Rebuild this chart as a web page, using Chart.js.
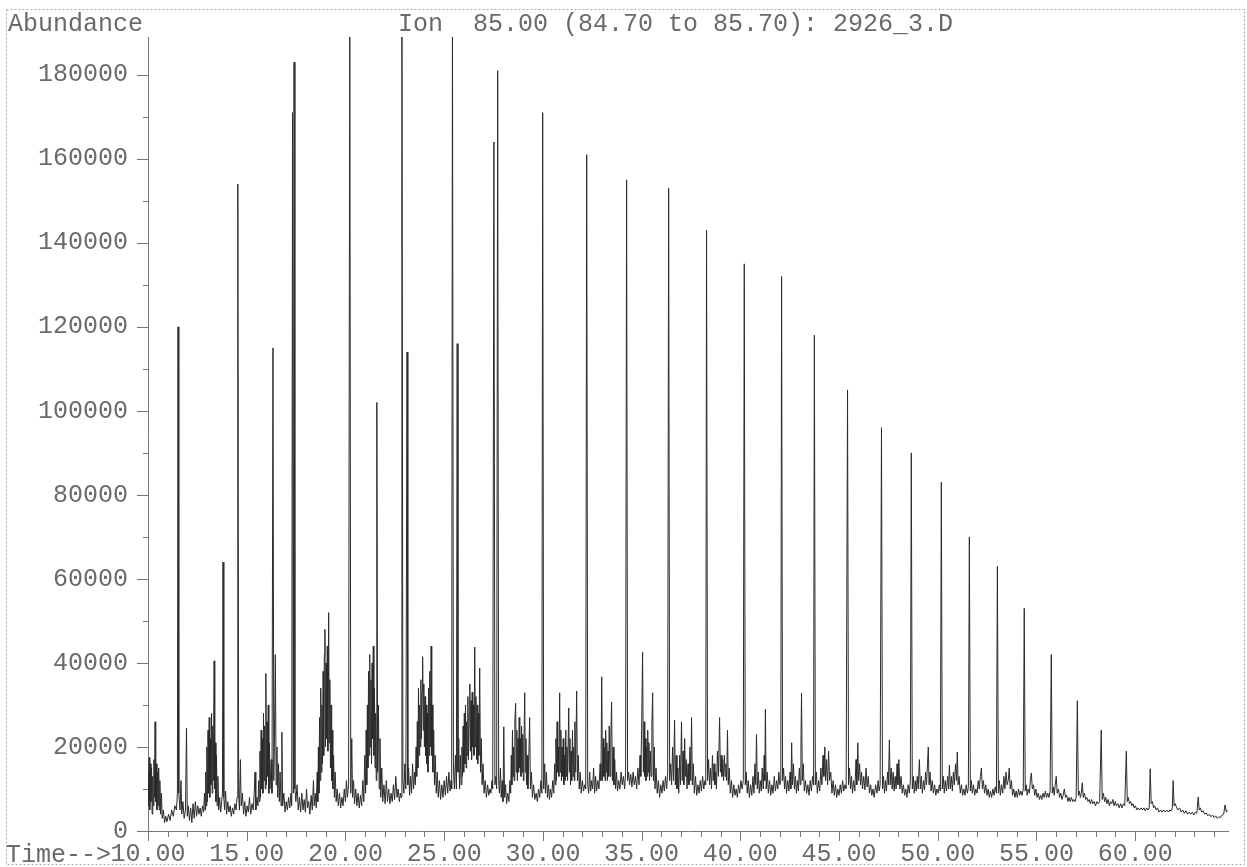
<!DOCTYPE html>
<html>
<head>
<meta charset="utf-8">
<title>Ion 85.00 chromatogram</title>
<script src="https://cdn.jsdelivr.net/npm/chart.js@4.4.1/dist/chart.umd.min.js"></script>
<style>
  html, body { margin: 0; padding: 0; background: #fff; }
  canvas { display: block; }
</style>
</head>
<body>
<canvas id="chartIon" width="1247" height="867"></canvas>
<script>
(function() {
    'use strict';

    // [time (min), abundance], region by region
    var early = [
        [10.00, 14000],[10.03, 6000],[10.06, 17500],[10.09, 5000],[10.12, 16000],[10.15, 7000],[10.18, 15000],[10.21, 4000],
        [10.24, 13000],[10.27, 6000],[10.30, 17000],[10.33, 8000],[10.36, 26000],[10.39, 7000],[10.42, 16000],[10.45, 5000],
        [10.48, 14000],[10.51, 6000],[10.54, 15000],[10.57, 5000],[10.60, 12000],[10.64, 4000],[10.68, 9000],[10.72, 3000],
        [10.78, 5000],[10.84, 2000],[10.90, 3500],[10.96, 2200],[11.04, 4000],[11.12, 2500],[11.20, 5000],[11.28, 3500],
        [11.36, 6000],[11.44, 5000],[11.49, 9000],[11.52, 120000],[11.56, 9000],[11.62, 5000],[11.67, 12000],[11.71, 4000],
        [11.77, 7000],[11.83, 3000],[11.90, 5000],[11.95, 24500],[11.99, 3500],[12.04, 6000],[12.10, 2500],[12.16, 5500],
        [12.22, 2000],[12.28, 6500],[12.34, 3000],[12.40, 7000],[12.46, 3500],[12.52, 6000],[12.58, 4000],[12.64, 5500],
        [12.70, 3500],[12.76, 6000],[12.82, 4500],[12.86, 9000],[12.89, 5000],[12.92, 14000],[12.95, 6000],[12.98, 20000],
        [13.01, 7000],[13.04, 24000],[13.07, 9000],[13.10, 27000],[13.13, 8000],[13.16, 22000],[13.19, 11000],[13.22, 28000],
        [13.25, 9000],[13.28, 25000],[13.31, 12000],[13.35, 40500],[13.38, 10000],[13.41, 21000],[13.44, 7000],[13.47, 18000],
        [13.50, 6000],[13.54, 13000],[13.58, 5000],[13.63, 8000],[13.68, 4500],[13.73, 7000],[13.77, 9000],[13.80, 64000],
        [13.84, 8000],[13.88, 5000],[13.93, 9500],[13.98, 4000],[14.04, 7000],[14.10, 4500],[14.16, 6000],[14.22, 3500],
        [14.28, 5500],[14.34, 4000],[14.40, 6500],[14.46, 5000],[14.51, 8000],[14.55, 154000]
    ];

    var min14to20 = [
        [14.59, 9000],[14.63, 5000],[14.68, 17000],[14.72, 6000],[14.78, 9000],[14.84, 4000],[14.90, 7000],[14.96, 3500],
        [15.02, 6000],[15.08, 4500],[15.14, 8000],[15.20, 4000],[15.27, 6500],[15.33, 5000],[15.38, 9000],[15.42, 14000],
        [15.46, 5000],[15.52, 8000],[15.57, 6000],[15.61, 12000],[15.64, 7000],[15.67, 19000],[15.70, 8000],[15.73, 24000],
        [15.76, 10000],[15.79, 22000],[15.82, 9000],[15.85, 28000],[15.88, 12000],[15.91, 25000],[15.94, 10000],[15.97, 37500],
        [16.00, 11000],[16.03, 26000],[16.06, 13000],[16.09, 30000],[16.12, 9000],[16.15, 21000],[16.18, 10000],[16.24, 17000],
        [16.28, 9000],[16.33, 115000],[16.37, 12000],[16.41, 24000],[16.45, 42000],[16.49, 11000],[16.53, 20000],[16.57, 8000],
        [16.61, 16000],[16.65, 7000],[16.69, 14000],[16.74, 6000],[16.78, 23500],[16.82, 6000],[16.88, 9000],[16.94, 4500],
        [17.00, 7000],[17.06, 5000],[17.12, 8000],[17.18, 5500],[17.24, 9000],[17.28, 6000],[17.32, 171000],[17.36, 9000],
        [17.40, 183000],[17.44, 10000],[17.49, 7000],[17.55, 11000],[17.61, 5000],[17.67, 8000],[17.73, 4500],[17.79, 9000],
        [17.85, 5000],[17.91, 7500],[17.97, 4500],[18.03, 10000],[18.08, 5500],[18.14, 7000],[18.20, 4000],[18.26, 8500],
        [18.32, 5000],[18.38, 12000],[18.42, 6000],[18.47, 9000],[18.52, 5500],[18.57, 14000],[18.60, 7000],[18.63, 20000],
        [18.66, 9000],[18.69, 27000],[18.72, 12000],[18.75, 34000],[18.78, 14000],[18.81, 30000],[18.84, 16000],[18.87, 38000],
        [18.90, 18000],[18.93, 42000],[18.96, 48000],[18.99, 20000],[19.02, 40000],[19.05, 22000],[19.08, 44000],[19.11, 19000],
        [19.15, 52000],[19.18, 21000],[19.21, 36000],[19.24, 15000],[19.27, 30000],[19.30, 12000],[19.33, 24000],[19.36, 10000],
        [19.40, 18000],[19.44, 8000],[19.48, 14000],[19.53, 7000],[19.58, 10000],[19.64, 6000],[19.70, 9000],[19.76, 5500],
        [19.82, 8000],[19.88, 6000],[19.94, 10000],[20.00, 7000],[20.05, 12000],[20.10, 8000],[20.16, 11000]
    ];

    var min20to26 = [
        [20.22, 195000],[20.27, 9000],[20.32, 22000],[20.36, 8000],[20.41, 12000],[20.46, 6500],[20.52, 10000],[20.58, 6000],
        [20.64, 9000],[20.70, 5500],[20.76, 8500],[20.82, 6000],[20.88, 12000],[20.93, 7000],[20.98, 18000],[21.02, 9000],
        [21.05, 24000],[21.08, 11000],[21.11, 30000],[21.14, 15000],[21.17, 38000],[21.20, 18000],[21.23, 42000],[21.26, 20000],
        [21.29, 36000],[21.32, 16000],[21.35, 40000],[21.38, 22000],[21.41, 44000],[21.44, 18000],[21.47, 34000],[21.50, 15000],
        [21.53, 28000],[21.56, 12000],[21.59, 102000],[21.63, 14000],[21.67, 30000],[21.71, 10000],[21.75, 22000],[21.79, 8000],
        [21.84, 15000],[21.89, 7000],[21.95, 11000],[22.01, 6500],[22.07, 12000],[22.13, 7000],[22.19, 10000],[22.25, 6500],
        [22.31, 9000],[22.37, 7000],[22.43, 11000],[22.49, 7500],[22.55, 13000],[22.61, 8000],[22.67, 10000],[22.73, 7000],
        [22.78, 9000],[22.82, 8000],[22.86, 195000],[22.91, 12000],[22.96, 9000],[23.01, 16000],[23.06, 10000],[23.12, 114000],
        [23.16, 11000],[23.20, 15000],[23.25, 8500],[23.30, 13000],[23.35, 9000],[23.40, 16000],[23.45, 10000],[23.50, 14000],
        [23.54, 11000],[23.58, 20000],[23.61, 13000],[23.64, 26000],[23.67, 15000],[23.70, 34000],[23.73, 18000],[23.76, 30000],
        [23.79, 20000],[23.82, 36000],[23.85, 22000],[23.88, 33000],[23.91, 41500],[23.94, 24000],[23.97, 35000],[24.00, 20000],
        [24.03, 32000],[24.06, 18000],[24.09, 30000],[24.12, 16000],[24.15, 28000],[24.18, 14000],[24.21, 34000],[24.24, 18000],
        [24.27, 38000],[24.30, 20000],[24.34, 44000],[24.37, 18000],[24.40, 30000],[24.43, 14000],[24.47, 24000],[24.51, 11000],
        [24.55, 18000],[24.60, 9000],[24.65, 14000],[24.70, 8000],[24.76, 12000],[24.82, 7500],[24.88, 11000],[24.94, 8000],
        [25.00, 12000],[25.06, 8500],[25.12, 13000],[25.18, 9000],[25.24, 14000],[25.30, 9500],[25.35, 12000],[25.38, 10000],
        [25.42, 195000],[25.47, 14000],[25.52, 10000],[25.57, 18000],[25.62, 10000],[25.66, 116000],[25.70, 14000],[25.74, 22000],
        [25.78, 10000],[25.82, 18000],[25.86, 11000],[25.90, 20000],[25.93, 13000],[25.96, 25000]
    ];

    var min26to32 = [
        [25.99, 14000],[26.02, 28000],[26.05, 16000],[26.08, 30000],[26.11, 15000],[26.14, 26000],[26.17, 18000],[26.20, 32000],
        [26.23, 17000],[26.27, 28000],[26.30, 35000],[26.33, 19000],[26.36, 31000],[26.39, 17000],[26.42, 33000],[26.45, 20000],
        [26.48, 30000],[26.51, 18000],[26.55, 43800],[26.58, 20000],[26.61, 32000],[26.64, 17000],[26.67, 30000],[26.70, 16000],
        [26.73, 28000],[26.76, 18000],[26.80, 38800],[26.84, 14000],[26.88, 22000],[26.92, 11000],[26.97, 16000],[27.02, 9000],
        [27.08, 12000],[27.14, 8000],[27.20, 11000],[27.26, 8500],[27.32, 10000],[27.37, 9000],[27.42, 12000],[27.46, 10000],
        [27.52, 164000],[27.57, 11000],[27.62, 13000],[27.66, 10000],[27.71, 181000],[27.76, 12000],[27.80, 9000],[27.85, 15000],
        [27.89, 8000],[27.94, 12000],[27.98, 7000],[28.02, 24800],[28.06, 8000],[28.11, 11000],[28.16, 6500],[28.22, 9000],
        [28.28, 7000],[28.33, 12000],[28.37, 9000],[28.40, 18000],[28.43, 11000],[28.46, 24000],[28.49, 13000],[28.52, 20000],
        [28.55, 12000],[28.58, 26000],[28.62, 30400],[28.65, 14000],[28.68, 24000],[28.71, 12000],[28.74, 22000],[28.77, 14000],
        [28.80, 27000],[28.83, 15000],[28.86, 22000],[28.89, 13000],[28.92, 25000],[28.95, 14000],[28.98, 23000],[29.01, 12000],
        [29.04, 20000],[29.08, 32900],[29.11, 14000],[29.14, 22000],[29.17, 11000],[29.20, 18000],[29.24, 10000],[29.28, 16000],
        [29.33, 27000],[29.37, 10000],[29.42, 14000],[29.47, 8000],[29.53, 11000],[29.59, 7500],[29.66, 9000],[29.72, 7000],
        [29.78, 10000],[29.84, 8000],[29.90, 12000],[29.95, 9000],[29.99, 171000],[30.04, 10000],[30.09, 16000],[30.13, 9000],
        [30.18, 14000],[30.23, 8000],[30.28, 11000],[30.33, 7500],[30.38, 10000],[30.44, 8000],[30.50, 12000],[30.55, 9000],
        [30.60, 16000],[30.63, 11000],[30.66, 22000],[30.69, 12000],[30.72, 26000],[30.75, 14000],[30.78, 20000],[30.81, 13000],
        [30.85, 32900],[30.88, 14000],[30.91, 24000],[30.94, 12000],[30.97, 20000],[31.00, 13000],[31.03, 22000],[31.06, 11000],
        [31.09, 18000],[31.12, 12000],[31.16, 24000],[31.19, 13000],[31.22, 20000],[31.25, 12000],[31.31, 29300],[31.34, 14000],
        [31.37, 22000],[31.40, 11000],[31.43, 19000],[31.46, 12000],[31.50, 24000],[31.53, 13000],[31.56, 20000],[31.59, 12000],
        [31.62, 26000],[31.66, 14000],[31.71, 33300],[31.75, 12000],[31.79, 18000],[31.84, 10000],[31.89, 14000],[31.94, 9000],
        [32.00, 12000],[32.06, 9500],[32.12, 11000],[32.17, 10000],[32.22, 161000]
    ];

    var min32to40 = [
        [32.27, 11000],[32.32, 9000],[32.37, 14000],[32.42, 9500],[32.47, 12000],[32.52, 10000],[32.57, 15000],[32.62, 9000],
        [32.67, 13000],[32.72, 9500],[32.78, 12000],[32.84, 10000],[32.90, 16000],[32.94, 12000],[32.98, 36700],[33.02, 12000],
        [33.06, 22000],[33.09, 13000],[33.12, 20000],[33.15, 12000],[33.18, 24000],[33.21, 14000],[33.24, 21000],[33.27, 12000],
        [33.30, 19000],[33.33, 13000],[33.36, 25000],[33.40, 13000],[33.44, 22000],[33.48, 30700],[33.52, 12000],[33.56, 20000],
        [33.60, 11000],[33.64, 17000],[33.68, 10000],[33.73, 14000],[33.78, 9500],[33.84, 12000],[33.90, 10000],[33.96, 14000],
        [34.02, 11000],[34.08, 13000],[34.14, 10000],[34.19, 14000],[34.24, 155000],[34.29, 12000],[34.34, 14000],[34.39, 11000],
        [34.45, 13500],[34.51, 10500],[34.57, 14000],[34.63, 11000],[34.69, 13000],[34.75, 10000],[34.81, 15000],[34.87, 11000],
        [34.92, 18000],[34.96, 13000],[35.00, 24000],[35.05, 42600],[35.09, 14000],[35.13, 26000],[35.16, 13000],[35.19, 22000],
        [35.22, 12000],[35.25, 20000],[35.28, 13000],[35.31, 24000],[35.34, 14000],[35.37, 21000],[35.40, 12000],[35.44, 19000],
        [35.48, 13000],[35.52, 25000],[35.56, 32900],[35.60, 12000],[35.64, 20000],[35.68, 10000],[35.73, 15000],[35.79, 9000],
        [35.85, 12000],[35.91, 8000],[35.97, 11000],[36.03, 9000],[36.09, 12000],[36.15, 9500],[36.21, 13000],[36.27, 10000],
        [36.32, 14000],[36.37, 153000],[36.42, 12000],[36.47, 16000],[36.52, 11000],[36.57, 20000],[36.62, 12000],[36.67, 26400],
        [36.71, 11000],[36.75, 18000],[36.79, 10000],[36.84, 15000],[36.88, 9000],[36.93, 18000],[36.97, 11000],[37.02, 26000],
        [37.06, 12000],[37.10, 19000],[37.14, 11000],[37.18, 22000],[37.22, 13000],[37.26, 17000],[37.30, 10000],[37.35, 16000],
        [37.40, 11000],[37.45, 20000],[37.49, 12000],[37.53, 27000],[37.57, 11000],[37.62, 16000],[37.67, 9000],[37.73, 13000],
        [37.79, 8500],[37.85, 11000],[37.91, 9000],[37.97, 12000],[38.03, 9500],[38.09, 13000],[38.15, 10000],[38.21, 12000],
        [38.25, 11000],[38.29, 143000],[38.34, 12000],[38.39, 17000],[38.44, 11000],[38.49, 15000],[38.54, 10000],[38.59, 18000],
        [38.63, 12000],[38.67, 16000],[38.71, 11000],[38.75, 14000],[38.79, 10000],[38.84, 19000],[38.89, 13000],[38.95, 27000],
        [38.99, 14000],[39.03, 18000],[39.07, 13000],[39.11, 17000],[39.15, 12000],[39.19, 18000],[39.23, 13000],[39.27, 16000],
        [39.31, 12000],[39.35, 24000],[39.39, 11000],[39.44, 15000],[39.49, 9000],[39.55, 12000],[39.61, 8000],[39.67, 11000],
        [39.73, 8500],[39.79, 10000],[39.85, 8000],[39.91, 11000],[39.97, 9000],[40.03, 12000],[40.09, 10000],[40.15, 12000]
    ];

    var min40to50 = [
        [40.20, 135000],[40.25, 11000],[40.30, 14000],[40.35, 9000],[40.40, 12000],[40.46, 8000],[40.52, 11000],[40.58, 8500],
        [40.64, 13000],[40.69, 9000],[40.74, 16000],[40.78, 11000],[40.82, 23000],[40.86, 10000],[40.91, 14000],[40.96, 9000],
        [41.01, 12000],[41.06, 9500],[41.11, 15000],[41.16, 10000],[41.21, 18000],[41.24, 12000],[41.27, 29000],[41.31, 10000],
        [41.36, 14000],[41.42, 9000],[41.48, 12000],[41.54, 8500],[41.60, 11000],[41.66, 9000],[41.72, 13000],[41.78, 9500],
        [41.84, 12000],[41.90, 10000],[41.95, 14000],[42.00, 11000],[42.05, 12000],[42.09, 132000],[42.14, 12000],[42.19, 15000],
        [42.24, 10000],[42.29, 13000],[42.34, 9000],[42.40, 12000],[42.46, 9500],[42.52, 14000],[42.56, 10000],[42.60, 21000],
        [42.64, 11000],[42.69, 16000],[42.74, 10000],[42.79, 13000],[42.84, 9000],[42.89, 12000],[42.94, 9500],[42.99, 15000],
        [43.03, 11000],[43.07, 20000],[43.10, 32800],[43.14, 12000],[43.19, 16000],[43.24, 9500],[43.30, 12000],[43.36, 9000],
        [43.42, 11000],[43.48, 8500],[43.54, 12000],[43.60, 9500],[43.66, 13000],[43.71, 11000],[43.75, 118000],[43.80, 11000],
        [43.85, 14000],[43.90, 9000],[43.96, 12000],[44.02, 9500],[44.08, 15000],[44.13, 11000],[44.19, 18000],[44.23, 13000],
        [44.28, 20000],[44.32, 12000],[44.37, 17000],[44.42, 11000],[44.47, 19000],[44.52, 12000],[44.58, 14000],[44.64, 9000],
        [44.70, 12000],[44.76, 8500],[44.82, 11000],[44.88, 8000],[44.94, 10000],[45.00, 8500],[45.06, 11000],[45.12, 9000],
        [45.18, 12000],[45.24, 9500],[45.30, 11000],[45.36, 10000],[45.43, 105000],[45.48, 11000],[45.53, 15000],[45.58, 10000],
        [45.63, 13000],[45.68, 9000],[45.74, 12000],[45.80, 9500],[45.86, 17000],[45.90, 11000],[45.95, 21000],[45.99, 12000],
        [46.04, 16000],[46.09, 11000],[46.14, 14000],[46.19, 10000],[46.25, 13000],[46.31, 9800],[46.37, 15000],[46.42, 10500],
        [46.48, 13000],[46.54, 9000],[46.60, 11000],[46.66, 8500],[46.72, 10000],[46.78, 8000],[46.85, 11000],[46.92, 9000],
        [46.98, 12000],[47.03, 9500],[47.08, 11000],[47.15, 96000],[47.20, 10000],[47.25, 13000],[47.30, 9000],[47.35, 12000],
        [47.40, 9500],[47.46, 14000],[47.50, 11000],[47.55, 21700],[47.59, 11000],[47.64, 15000],[47.69, 10000],[47.74, 14000],
        [47.79, 9500],[47.84, 13000],[47.89, 10000],[47.94, 16000],[47.98, 11000],[48.03, 17000],[48.08, 10000],[48.14, 13000],
        [48.20, 9000],[48.26, 11000],[48.32, 8500],[48.38, 10000],[48.44, 8000],[48.50, 11000],[48.56, 9000],[48.61, 12000],
        [48.66, 90000],[48.71, 10000],[48.76, 13000],[48.81, 9000],[48.86, 12000],[48.91, 9500],[48.96, 13000],[49.01, 10000],
        [49.07, 17000],[49.12, 10000],[49.17, 13000],[49.22, 9000],[49.28, 12000],[49.33, 9800],[49.38, 14000],[49.43, 11000],
        [49.48, 16000],[49.52, 20000],[49.56, 11000],[49.61, 14000],[49.66, 9500],[49.72, 12000],[49.78, 9000],[49.84, 11000],
        [49.90, 8500],[49.96, 10000],[50.02, 9000],[50.08, 11000],[50.13, 9500]
    ];

    var late = [
        [50.18, 83000],[50.23, 10000],[50.28, 13000],[50.33, 9000],[50.38, 12000],[50.44, 9500],[50.50, 13000],[50.55, 10000],
        [50.59, 15700],[50.64, 10000],[50.69, 13000],[50.74, 9500],[50.79, 14000],[50.84, 11000],[50.90, 16000],[50.95, 12000],
        [50.99, 18800],[51.03, 11000],[51.08, 13000],[51.14, 9000],[51.20, 11000],[51.26, 8500],[51.32, 10000],[51.38, 8500],
        [51.44, 11000],[51.50, 9000],[51.55, 10500],[51.60, 70000],[51.65, 9500],[51.70, 12000],[51.75, 9000],[51.81, 11000],
        [51.87, 8500],[51.93, 10000],[51.99, 9000],[52.05, 12000],[52.10, 10000],[52.16, 13000],[52.21, 15000],[52.26, 10000],
        [52.31, 12000],[52.37, 9000],[52.43, 11000],[52.49, 8500],[52.55, 10000],[52.61, 8000],[52.67, 9500],[52.73, 8000],
        [52.79, 10000],[52.85, 8500],[52.91, 10500],[52.97, 9000],[53.02, 63000],[53.07, 9000],[53.12, 12000],[53.17, 8500],
        [53.23, 11000],[53.29, 9000],[53.35, 13000],[53.40, 10000],[53.46, 14000],[53.51, 11000],[53.57, 12000],[53.62, 15000],
        [53.67, 10000],[53.73, 12000],[53.79, 8500],[53.85, 10000],[53.91, 8000],[53.97, 9500],[54.03, 8000],[54.09, 10000],
        [54.15, 8500],[54.21, 9500],[54.27, 8500],[54.33, 10000],[54.38, 53000],[54.43, 9500],[54.48, 11000],[54.53, 8500],
        [54.58, 10000],[54.64, 9000],[54.69, 12000],[54.74, 13800],[54.79, 10000],[54.85, 11000],[54.91, 8500],[54.97, 10000],
        [55.03, 8000],[55.09, 9000],[55.15, 7500],[55.21, 8500],[55.27, 7500],[55.33, 9000],[55.39, 8000],[55.45, 9500],
        [55.51, 8000],[55.57, 9000],[55.63, 8000],[55.69, 9500],[55.75, 42000],[55.80, 9000],[55.85, 10500],[55.90, 8500],
        [55.95, 11000],[56.00, 13000],[56.05, 9000],[56.11, 10000],[56.17, 8000],[56.23, 9000],[56.29, 7500],[56.35, 8500],
        [56.41, 10000],[56.47, 8000],[56.53, 8500],[56.59, 7000],[56.65, 8000],[56.71, 7000],[56.77, 8000],[56.83, 7000],
        [56.89, 7500],[56.95, 7000],[57.01, 8000],[57.07, 31000],[57.12, 8500],[57.17, 9500],[57.22, 8000],[57.27, 9000],
        [57.32, 11500],[57.37, 8000],[57.43, 9000],[57.49, 7500],[57.55, 8000],[57.61, 7000],[57.67, 7500],[57.73, 6500],
        [57.79, 7500],[57.85, 6500],[57.92, 7000],[57.99, 6000],[58.06, 7000],[58.13, 6500],[58.20, 7000],[58.28, 24000],
        [58.33, 7500],[58.39, 9000],[58.45, 7000],[58.51, 8000],[58.57, 6500],[58.63, 7500],[58.69, 6000],[58.75, 7000],
        [58.81, 6500],[58.87, 7500],[58.93, 6000],[58.99, 7000],[59.05, 6000],[59.12, 6500],[59.19, 5500],[59.26, 6500],
        [59.33, 5500],[59.40, 6500],[59.47, 6000],[59.55, 19000],[59.60, 7000],[59.65, 8000],[59.71, 6500],[59.77, 7000],
        [59.83, 6000],[59.89, 6500],[59.95, 5500],[60.01, 6000],[60.08, 5000],[60.15, 5500],[60.22, 5000],[60.30, 5500],
        [60.37, 5000],[60.44, 5500],[60.51, 4800],[60.58, 5500],[60.65, 5000],[60.71, 5500],[60.76, 14800],[60.81, 6500],
        [60.87, 7000],[60.93, 5500],[60.99, 6000],[61.06, 5000],[61.13, 5500],[61.20, 4500],[61.28, 5000],[61.36, 4500],
        [61.44, 5000],[61.52, 4500],[61.60, 5000],[61.68, 4500],[61.75, 5000],[61.82, 4800],[61.88, 5500],[61.92, 12000],
        [61.97, 6000],[62.03, 6500],[62.10, 5500],[62.17, 5000],[62.25, 5500],[62.33, 4500],[62.41, 5000],[62.49, 4200],
        [62.57, 4800],[62.65, 4000],[62.73, 4500],[62.81, 4000],[62.89, 4500],[62.97, 3800],[63.05, 4500],[63.12, 4200],
        [63.19, 8100],[63.24, 5000],[63.30, 5500],[63.37, 4500],[63.44, 4800],[63.52, 4000],[63.60, 4300],[63.68, 3600],
        [63.76, 4000],[63.84, 3400],[63.92, 3800],[64.00, 3200],[64.08, 3600],[64.16, 3000],[64.24, 3400],[64.32, 3200],
        [64.40, 3800],[64.48, 4000],[64.55, 6200],[64.62, 4500],[64.66, 5000]
    ];

    // axis ticks
    var yTickValues = [0, 20000, 40000, 60000, 80000, 100000, 120000, 140000, 160000, 180000];
    var yMinorValues = [10000, 30000, 50000, 70000, 90000, 110000, 130000, 150000, 170000];
    var xLabelValues = [10, 15, 20, 25, 30, 35, 40, 45, 50, 55, 60];
    var timeMin = 10, timeMax = 64.7;
    var abundanceMax = 189000;

    var titleText = 'Ion  85.00 (84.70 to 85.70): 2926_3.D';
    var yAxisText = 'Abundance';
    var xAxisText = 'Time-->';

    var trace = early.concat(min14to20, min20to26, min26to32, min32to40, min40to50, late)
        .map(function(p) { return { x: p[0], y: p[1] }; });

    var textColor = '#6a6a6a';
    var axisColor = '#777';
    Chart.defaults.font.family = "'Liberation Mono', 'Courier New', monospace";
    Chart.defaults.font.size = 25;
    Chart.defaults.color = textColor;

    // dotted frame, header texts and tick marks of two lengths
    var decor = {
        id: 'decor',
        beforeDraw: function(chart) {
            var c = chart.ctx;
            c.save();
            c.fillStyle = '#fff';
            c.fillRect(0, 0, chart.width, chart.height);
            c.setLineDash([2, 2]);
            c.strokeStyle = '#aaa';
            c.lineWidth = 1;
            c.strokeRect(6.5, 9.5, chart.width - 9, chart.height - 12);
            c.restore();
        },
        afterDraw: function(chart) {
            var c = chart.ctx, xs = chart.scales.x, ys = chart.scales.y;
            var area = chart.chartArea;
            c.save();
            c.strokeStyle = axisColor;
            c.lineWidth = 1;
            c.beginPath();
            yTickValues.forEach(function(v) {
                var py = Math.round(ys.getPixelForValue(v)) + 0.5;
                c.moveTo(area.left - 11, py);
                c.lineTo(area.left, py);
            });
            yMinorValues.forEach(function(v) {
                var py = Math.round(ys.getPixelForValue(v)) + 0.5;
                c.moveTo(area.left - 5, py);
                c.lineTo(area.left, py);
            });
            xs.ticks.forEach(function(tk) {
                var px = Math.round(xs.getPixelForValue(tk.value)) + 0.5;
                var tl = xLabelValues.indexOf(tk.value) >= 0 ? 10 : 6;
                c.moveTo(px, area.bottom);
                c.lineTo(px, area.bottom + tl);
            });
            c.stroke();

            c.fillStyle = textColor;
            c.font = "25px 'Liberation Mono', 'Courier New', monospace";
            c.textBaseline = 'middle';
            c.textAlign = 'left';
            c.fillText(yAxisText, 8, 24);
            c.fillText(titleText, 398, 24);
            c.textAlign = 'right';
            c.fillText(xAxisText, 111, 855);
            c.restore();
        }
    };

    var ctx = document.getElementById('chartIon');
    new Chart(ctx, {
        type: 'line',
        data: {
            datasets: [{
                data: trace,
                borderColor: '#2b2b2b',
                borderWidth: 1,
                pointRadius: 0,
                tension: 0,
                fill: false
            }]
        },
        options: {
            responsive: false,
            animation: false,
            events: [],
            layout: { padding: { top: 37, right: 19, left: 0, bottom: 0 } },
            plugins: {
                legend: { display: false },
                tooltip: { enabled: false }
            },
            scales: {
                x: {
                    type: 'linear',
                    min: timeMin,
                    max: timeMax,
                    afterFit: function(s) { s.height = 36; },
                    grid: { display: false, drawTicks: false },
                    border: { display: true, color: axisColor, width: 1 },
                    ticks: {
                        stepSize: 1,
                        autoSkip: false,
                        maxRotation: 0,
                        includeBounds: false,
                        padding: 8,
                        callback: function(v) {
                            return xLabelValues.indexOf(v) >= 0 ? Number(v).toFixed(2) : '';
                        }
                    }
                },
                y: {
                    min: 0,
                    max: abundanceMax,
                    afterFit: function(s) { s.width = 148; },
                    afterBuildTicks: function(s) {
                        s.ticks = yTickValues.map(function(v) { return { value: v }; });
                    },
                    grid: { display: false, drawTicks: false },
                    border: { display: true, color: axisColor, width: 1 },
                    ticks: {
                        padding: 20,
                        callback: function(v) { return String(v); }
                    }
                }
            }
        },
        plugins: [decor]
    });
})();
</script>
</body>
</html>
